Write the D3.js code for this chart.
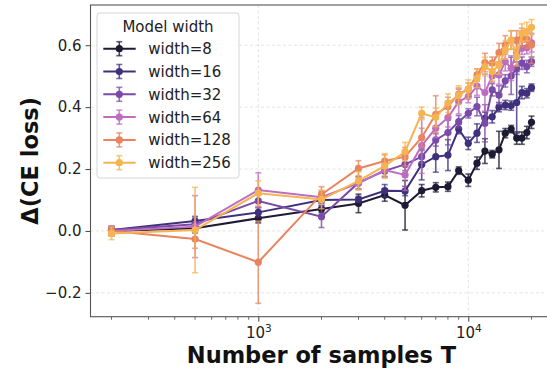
<!DOCTYPE html>
<html>
<head>
<meta charset="utf-8">
<script src="https://cdn.jsdelivr.net/npm/d3@7"></script>
<style>
  body { margin: 0; background: #fff; }
  svg { display: block; overflow: hidden; font-family: 'DejaVu Sans', sans-serif; }
</style>
</head>
<body>
<div id="chart"></div>
<script>
const samples = [200, 500, 1000, 2000, 3000, 4000, 5000, 6000, 7000, 8000, 9000, 10000,
  11000, 12000, 13000, 14000, 15000, 16000, 17000, 18000, 19000, 20000];

const widthLabels = ['width=8', 'width=16', 'width=32', 'width=64', 'width=128', 'width=256'];
const colors = ['#1d1a33', '#40307c', '#7a4aa8', '#bd6dbf', '#e8845f', '#f6b451'];

const w8 = [0.0, 0.009, 0.041, 0.071, 0.089, 0.116, 0.083, 0.130, 0.141, 0.143, 0.195, 0.164,
  0.219, 0.258, 0.248, 0.262, 0.316, 0.329, 0.300, 0.300, 0.318, 0.351];
const w8Err = [0.015, 0.015, 0.015, 0.012, 0.03, 0.02, 0.08, 0.02, 0.015, 0.015, 0.012, 0.02,
  0.02, 0.04, 0.012, 0.06, 0.015, 0.012, 0.02, 0.02, 0.02, 0.02];

const w16 = [0.003, 0.032, 0.060, 0.100, 0.102, 0.130, 0.129, 0.215, 0.240, 0.245, 0.329, 0.283,
  0.316, 0.364, 0.369, 0.400, 0.407, 0.405, 0.415, 0.447, 0.445, 0.463];
const w16Err = [0.01, 0.015, 0.015, 0.01, 0.01, 0.02, 0.015, 0.05, 0.05, 0.05, 0.015, 0.02,
  0.03, 0.02, 0.02, 0.015, 0.015, 0.015, 0.1, 0.02, 0.015, 0.012];

const w32 = [0.003, 0.022, 0.097, 0.046, 0.156, 0.194, 0.215, 0.240, 0.294, 0.318, 0.353, 0.380,
  0.402, 0.348, 0.456, 0.439, 0.485, 0.501, 0.526, 0.542, 0.531, 0.547];
const w32Err = [0.01, 0.02, 0.02, 0.035, 0.02, 0.02, 0.02, 0.02, 0.02, 0.04, 0.02, 0.015,
  0.03, 0.06, 0.02, 0.03, 0.02, 0.06, 0.02, 0.02, 0.02, 0.015];

const w64 = [0.0, 0.014, 0.132, 0.109, 0.154, 0.197, 0.181, 0.276, 0.332, 0.366, 0.418, 0.434,
  0.468, 0.447, 0.501, 0.504, 0.547, 0.526, 0.576, 0.590, 0.592, 0.608];
const w64Err = [0.015, 0.1, 0.056, 0.02, 0.02, 0.02, 0.05, 0.09, 0.03, 0.03, 0.04, 0.02,
  0.03, 0.06, 0.02, 0.03, 0.03, 0.04, 0.03, 0.02, 0.02, 0.03];

const w128 = [0.0, -0.026, -0.101, 0.118, 0.202, 0.226, 0.240, 0.302, 0.377, 0.402, 0.442, 0.458,
  0.504, 0.544, 0.542, 0.576, 0.601, 0.617, 0.617, 0.625, 0.620, 0.601];
const w128Err = [0.015, 0.03, 0.133, 0.025, 0.025, 0.02, 0.03, 0.03, 0.06, 0.03, 0.02, 0.02,
  0.02, 0.03, 0.02, 0.03, 0.03, 0.03, 0.03, 0.03, 0.03, 0.06];

const w256 = [-0.008, 0.003, 0.122, 0.102, 0.162, 0.210, 0.256, 0.380, 0.367, 0.413, 0.439, 0.458,
  0.493, 0.531, 0.515, 0.536, 0.585, 0.617, 0.563, 0.639, 0.644, 0.658];
const w256Err = [0.02, 0.138, 0.04, 0.03, 0.03, 0.04, 0.03, 0.02, 0.03, 0.03, 0.03, 0.03,
  0.03, 0.03, 0.03, 0.03, 0.03, 0.03, 0.03, 0.03, 0.03, 0.025];

const yTicks = [-0.2, 0.0, 0.2, 0.4, 0.6];
const xMajor = [1000, 10000];
const xMinor = [200, 300, 400, 500, 600, 700, 800, 900, 2000, 3000, 4000, 5000, 6000, 7000, 8000, 9000, 20000];

const series = [
  { label: widthLabels[0], vals: w8, errs: w8Err, color: colors[0] },
  { label: widthLabels[1], vals: w16, errs: w16Err, color: colors[1] },
  { label: widthLabels[2], vals: w32, errs: w32Err, color: colors[2] },
  { label: widthLabels[3], vals: w64, errs: w64Err, color: colors[3] },
  { label: widthLabels[4], vals: w128, errs: w128Err, color: colors[4] },
  { label: widthLabels[5], vals: w256, errs: w256Err, color: colors[5] }
];

const W = 547, H = 371;
const margin = { top: 5, left: 90.5 };
const plotW = 462, plotH = 311.7;

const svg = d3.select('#chart').append('svg').attr('width', W).attr('height', H);
const g = svg.append('g').attr('transform', 'translate(' + margin.left + ',' + margin.top + ')');

const xScale = d3.scaleLog().domain([Math.pow(10, 2.201), Math.pow(10, 4.401)]).range([0, plotW]);
const yScale = d3.scaleLinear().domain([-0.277, 0.730]).range([plotH, 0]);

// grid
g.selectAll('.ygrid').data(yTicks).enter().append('line')
  .attr('x1', 0).attr('x2', plotW)
  .attr('y1', (d) => yScale(d)).attr('y2', (d) => yScale(d))
  .style('stroke', '#dcdcdc').style('stroke-width', 0.8).style('stroke-dasharray', '3,2.5');
g.selectAll('.xgrid').data(xMajor).enter().append('line')
  .attr('x1', (d) => xScale(d)).attr('x2', (d) => xScale(d))
  .attr('y1', 0).attr('y2', plotH)
  .style('stroke', '#dcdcdc').style('stroke-width', 0.8).style('stroke-dasharray', '3,2.5');

// axes
const yAxis = g.append('g')
  .call(d3.axisLeft(yScale).tickValues(yTicks).tickSize(5).tickPadding(4)
    .tickFormat((d) => (d < 0 ? '\u2212' : '') + Math.abs(d).toFixed(1)));
yAxis.select('.domain').remove();
yAxis.selectAll('text').style('font-size', '15px').style('fill', '#222').style('font-family', 'DejaVu Sans');
yAxis.selectAll('line').style('stroke', '#444');

const xAxis = g.append('g').attr('transform', 'translate(0,' + plotH + ')')
  .call(d3.axisBottom(xScale).tickValues(xMajor).tickSize(5).tickPadding(3).tickFormat(''));
xAxis.select('.domain').remove();
xAxis.selectAll('line').style('stroke', '#444');
xAxis.selectAll('.tick').append('text')
  .attr('y', 21).attr('fill', '#222').style('font-size', '15px').style('font-family', 'DejaVu Sans')
  .attr('text-anchor', 'middle')
  .each(function (d) {
    const t = d3.select(this);
    t.append('tspan').text('10');
    t.append('tspan').attr('dy', -6).style('font-size', '10.5px').text(String(Math.round(Math.log10(d))));
  });
g.append('g').attr('transform', 'translate(0,' + plotH + ')')
  .selectAll('line').data(xMinor).enter().append('line')
  .attr('x1', (d) => xScale(d)).attr('x2', (d) => xScale(d))
  .attr('y1', 0).attr('y2', 3)
  .style('stroke', '#444').style('stroke-width', 0.8);

// frame
g.append('rect').attr('x', 0).attr('y', 0).attr('width', plotW).attr('height', plotH)
  .style('fill', 'none').style('stroke', '#555').style('stroke-width', 1.1);

// series
const line = d3.line().x((d) => xScale(d[0])).y((d) => yScale(d[1]));
series.forEach((s) => {
  const pts = samples.map((x, i) => [x, s.vals[i], s.errs[i]]);
  const eg = g.append('g');
  eg.selectAll('.eb').data(pts).enter().append('line')
    .attr('x1', (d) => xScale(d[0])).attr('x2', (d) => xScale(d[0]))
    .attr('y1', (d) => yScale(d[1] - d[2])).attr('y2', (d) => yScale(d[1] + d[2]))
    .style('stroke', s.color).style('stroke-width', 1.6).style('opacity', 0.8);
  [-1, 1].forEach((sign) => {
    eg.selectAll('.cap' + sign).data(pts).enter().append('line')
      .attr('x1', (d) => xScale(d[0]) - 3).attr('x2', (d) => xScale(d[0]) + 3)
      .attr('y1', (d) => yScale(d[1] + sign * d[2])).attr('y2', (d) => yScale(d[1] + sign * d[2]))
      .style('stroke', s.color).style('stroke-width', 1.6).style('opacity', 0.7);
  });
  g.append('path').datum(pts).attr('d', line)
    .style('fill', 'none').style('stroke', s.color).style('stroke-width', 2);
  g.append('g').selectAll('circle').data(pts).enter().append('circle')
    .attr('cx', (d) => xScale(d[0])).attr('cy', (d) => yScale(d[1])).attr('r', 3.6)
    .style('fill', s.color);
});

// labels
svg.append('text')
  .attr('x', margin.left + plotW / 2).attr('y', 363)
  .attr('text-anchor', 'middle')
  .style('font-size', '22.5px').style('font-weight', 'bold').style('fill', '#111')
  .text('Number of samples T');
svg.append('text')
  .attr('transform', 'translate(38,' + (margin.top + plotH / 2) + ') rotate(-90)')
  .attr('text-anchor', 'middle')
  .style('font-size', '22.5px').style('font-weight', 'bold').style('fill', '#111')
  .text('\u0394(CE loss)');

// legend
const legend = svg.append('g').attr('transform', 'translate(97,13)');
legend.append('rect').attr('width', 142).attr('height', 165).attr('rx', 3)
  .style('fill', 'rgba(255,255,255,0.85)').style('stroke', '#d6d6d6').style('stroke-width', 1);
legend.append('text').attr('x', 71).attr('y', 18.5).attr('text-anchor', 'middle')
  .style('font-size', '15px').style('fill', '#222').text('Model width');
const entries = legend.selectAll('.entry').data(series).enter().append('g')
  .attr('transform', (_d, i) => 'translate(0,' + (35.7 + i * 22.8) + ')');
entries.append('line').attr('x1', 6.3).attr('x2', 38.7).attr('y1', 0).attr('y2', 0)
  .style('stroke', (d) => d.color).style('stroke-width', 2);
entries.append('line').attr('x1', 22.3).attr('x2', 22.3).attr('y1', -7).attr('y2', 7)
  .style('stroke', (d) => d.color).style('stroke-width', 1.6).style('opacity', 0.8);
entries.append('line').attr('x1', 19.3).attr('x2', 25.3).attr('y1', -7).attr('y2', -7)
  .style('stroke', (d) => d.color).style('stroke-width', 1.6).style('opacity', 0.7);
entries.append('line').attr('x1', 19.3).attr('x2', 25.3).attr('y1', 7).attr('y2', 7)
  .style('stroke', (d) => d.color).style('stroke-width', 1.6).style('opacity', 0.7);
entries.append('circle').attr('cx', 22.3).attr('cy', 0).attr('r', 3.6).style('fill', (d) => d.color);
entries.append('text').attr('x', 51.3).attr('y', 5.5)
  .style('font-size', '15px').style('fill', '#222').text((d) => d.label);
</script>
</body>
</html>
